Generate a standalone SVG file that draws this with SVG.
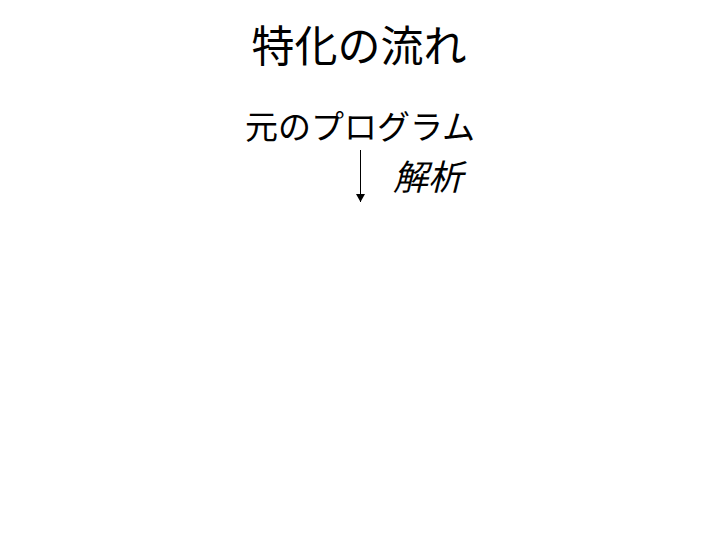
<svg xmlns="http://www.w3.org/2000/svg" width="720" height="540" viewBox="0 0 720 540">
<defs>
<style>
.t{font-family:"Liberation Sans","Noto Sans CJK JP",sans-serif;fill:#000}
</style>
<marker id="ah" markerWidth="8" markerHeight="9" refX="8" refY="4.5" orient="auto" markerUnits="userSpaceOnUse">
<path d="M0,0 L8,4.5 L0,9 Z" fill="#000"/>
</marker>
</defs>
<rect width="720" height="540" fill="#fff"/>
<g id="title"><text class="t" x="359" y="62" font-size="43" text-anchor="middle">特化の流れ</text></g>
<g id="node-source"><text class="t" x="360" y="139" font-size="33" text-anchor="middle">元のプログラム</text></g>
<g id="connectors">
<line x1="360.5" y1="150" x2="360.5" y2="202" stroke="#000" stroke-width="1" marker-end="url(#ah)"/>
<text class="t" x="393" y="190" font-size="35" font-style="italic">解析</text>
</g>
</svg>
